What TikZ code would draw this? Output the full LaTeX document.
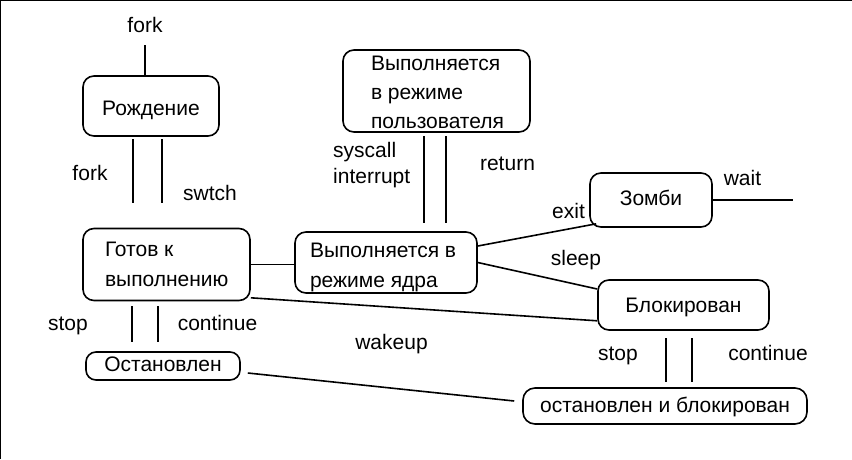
\documentclass[tikz,border=0pt]{standalone}
\usepackage{fontspec}
\setmainfont{Liberation Sans}
\newcommand\mlt[2]{\makebox[#1][l]{\begin{tabular}[t]{@{}l@{}}#2\end{tabular}}}
\begin{document}
\begin{tikzpicture}[x=1pt,y=-1pt,
  every node/.style={font=\fontsize{21}{30}\selectfont, inner sep=0pt},
  st/.style={draw, line width=1.6pt, rounded corners=11pt},
  lbl/.style={anchor=base},
  ln/.style={line width=1.6pt}]
\useasboundingbox (0,0) rectangle (852,459);
\draw[line width=1.5pt] (0,459) -- (0,0) -- (852,0);
% states
\node[st, minimum width=136pt, minimum height=60pt, text height=18pt, text depth=0pt] (born) at (151,106) {Рождение};
\node[st, minimum width=167pt, minimum height=72pt, text height=5pt, text depth=22pt] (ready) at (166.5,264.5) {\mlt{123pt}{Готов к\\выполнению}};
\node[st, minimum width=182pt, minimum height=61pt, text height=5pt, text depth=16pt] (kern) at (386,262.5) {\mlt{152pt}{Выполняется в\\режиме ядра}};
\node[st, minimum width=187pt, minimum height=82pt, text height=5pt, text depth=47pt, font=\fontsize{21}{29}\selectfont] (user) at (436.5,91) {\mlt{131pt}{Выполняется\\в режиме\\пользователя}};
\node[st, minimum width=122pt, minimum height=54pt, text height=10pt, text depth=0pt] (zombie) at (651,200) {Зомби};
\node[st, minimum width=171pt, minimum height=50pt, text height=14pt, text depth=0pt] (blocked) at (683.5,305) {Блокирован};
\node[st, rounded corners=10pt, minimum width=154pt, minimum height=28pt, text height=10pt, text depth=0pt] (stopped) at (163,366) {Остановлен};
\node[st, rounded corners=12pt, minimum width=284pt, minimum height=36pt, text height=12pt, text depth=0pt] (stopblk) at (665,406) {остановлен и блокирован};
% labels
\node[lbl] (lfork1) at (145,32) {fork};
\node[lbl] (lfork2) at (90,180) {fork};
\node[lbl] (lswtch) at (210,200) {swtch};
\node[lbl] (lstop1) at (68,330) {stop};
\node[lbl] (lcont1) at (217.5,330) {continue};
\node[anchor=base west, font=\fontsize{21}{26}\selectfont] (lsys) at (333,157) {\begin{tabular}[t]{@{}l@{}}syscall\\interrupt\end{tabular}};
\node[lbl] (lret) at (507.5,170) {return};
\node[lbl] (lexit) at (568.5,218) {exit};
\node[lbl] (lwait) at (742.5,185) {wait};
\node[lbl] (lsleep) at (576,265) {sleep};
\node[lbl] (lwake) at (391.5,349) {wakeup};
\node[lbl] (lstop2) at (618,360) {stop};
\node[lbl] (lcont2) at (768,360) {continue};
% free ends
\coordinate (ft) at (145,45);
\coordinate (a1) at (133,139); \coordinate (a2) at (133,203);
\coordinate (b1) at (162,139); \coordinate (b2) at (162,203);
\coordinate (c1) at (132,306); \coordinate (c2) at (132,342);
\coordinate (d1) at (158,306); \coordinate (d2) at (158,342);
\coordinate (e1) at (424,136); \coordinate (e2) at (424,223);
\coordinate (f1) at (446,136); \coordinate (f2) at (446,223);
\coordinate (g1) at (666,338); \coordinate (g2) at (666,382);
\coordinate (h1) at (692,338); \coordinate (h2) at (692,382);
\coordinate (wt) at (793,200);
% connectors
\draw[ln] (ft) -- (ft |- born.north);
\draw[ln] (a1) -- (a2);
\draw[ln] (b1) -- (b2);
\draw[ln] (c1) -- (c2);
\draw[ln] (d1) -- (d2);
\draw[ln] (e1) -- (e2);
\draw[ln] (f1) -- (f2);
\draw[ln] (g1) -- (g2);
\draw[ln] (h1) -- (h2);
\draw[ln] (ready.east) -- (ready.east -| kern.west);
\draw[ln] ([yshift=3.5pt]ready.south east) -- ([yshift=10pt]blocked.south west);
\draw[ln] ([yshift=16.5pt]kern.east) -- ([xshift=7pt,yshift=4pt]zombie.south west);
\draw[ln] (kern.east) -- ([yshift=16pt]blocked.west);
\draw[ln] (zombie.east) -- (wt);
\draw[ln] ([xshift=7pt,yshift=-7pt]stopped.east) -- ([xshift=-8pt,yshift=5pt]stopblk.west);
\end{tikzpicture}
\end{document}
